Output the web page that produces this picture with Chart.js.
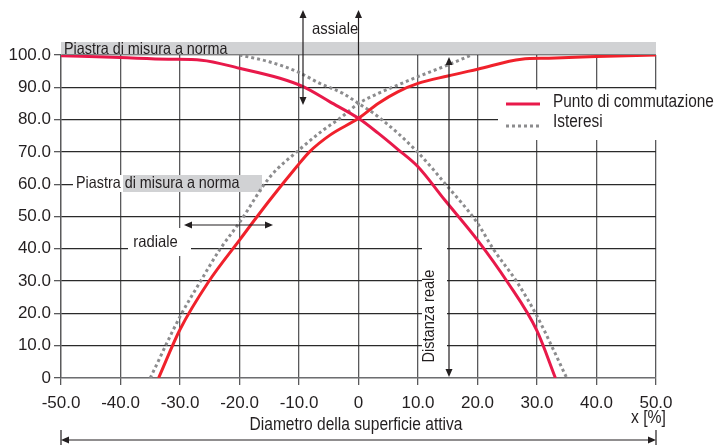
<!DOCTYPE html>
<html>
<head>
<meta charset="utf-8">
<script src="https://cdn.jsdelivr.net/npm/chart.js@4.4.1/dist/chart.umd.min.js"></script>
<style>
  html, body { margin: 0; padding: 0; background: #fff; }
  canvas { display: block; }
</style>
</head>
<body>
<canvas id="chart" width="714" height="445"></canvas>
<script>
// ===== data =====
// Punto di commutazione - branch falling from left to right
const switchDownX = [-50, -40, -32, -26.4, -20, -13.2, -9.3, -4.8, 0, 3.3, 6.6, 10, 14.5, 20, 25, 30, 33.1];
const switchDownY = [99.8, 99.2, 98.7, 98.4, 95.9, 92.8, 90.2, 85.5, 80.4, 75.8, 70.8, 65.4, 55.1, 42.7, 29.8, 14.6, 0];
// Punto di commutazione - branch rising from left to right
const switchUpX = [-33.6, -30, -25.2, -20, -14.9, -10.4, -8.2, -4.8, 0, 3.3, 6.6, 10, 15, 20, 27.4, 32, 40, 50];
const switchUpY = [0, 15, 29.8, 42.7, 55.1, 65.4, 70.1, 75.2, 80.4, 85, 88.6, 91.2, 93.5, 95.6, 98.7, 99, 99.5, 100];
// Isteresi
const hystDownX = [-20, -15, -10, -6.5, -2.6, 0, 3.3, 10, 15, 19.9, 22.7, 26.6, 29.9, 35];
const hystDownY = [100, 97.9, 94.6, 91.2, 88.1, 85, 80.9, 69.8, 59.2, 48.2, 39.8, 29.8, 19.5, 0];
const hystUpX = [-35, -30, -26.6, -23.3, -19.9, -15, -10, -5.9, -3.1, 0, 3.3, 6.6, 10, 15, 19];
const hystUpY = [0, 19, 29.8, 39.8, 48.4, 62, 70.6, 76.8, 80.4, 85, 88.1, 90.7, 93.3, 96.9, 100];

const seriesNames = ["Punto di commutazione", "Isteresi"];
const xTitle = "Diametro della superficie attiva";
const xUnit = "x [%]";

const RED_A = "#e8194a";
const RED_B = "#f0212b";
const GREY = "#8c8c8e";
const FONT = '"Liberation Sans", Arial, sans-serif';

function pts(xs, ys) {
  return xs.map((x, i) => ({ x: x, y: ys[i] }));
}

// condensed look: Liberation Sans squeezed sideways
function narrow(c, text, x, y, size, align, k) {
  c.save();
  c.translate(x, y);
  c.scale(k || 0.88, 1);
  c.font = size + "px " + FONT;
  c.textAlign = align;
  c.textBaseline = "middle";
  c.fillText(text, 0, 0);
  c.restore();
}

function head(c, x, y, dir) {
  const L = 8, W = 3.5;
  c.beginPath();
  if (dir === "up") { c.moveTo(x, y); c.lineTo(x - W, y + L); c.lineTo(x + W, y + L); }
  if (dir === "down") { c.moveTo(x, y); c.lineTo(x - W, y - L); c.lineTo(x + W, y - L); }
  if (dir === "left") { c.moveTo(x, y); c.lineTo(x + L, y - W); c.lineTo(x + L, y + W); }
  if (dir === "right") { c.moveTo(x, y); c.lineTo(x - L, y - W); c.lineTo(x - L, y + W); }
  c.closePath();
  c.fill();
}

function line(c, x1, y1, x2, y2) {
  c.beginPath();
  c.moveTo(x1, y1);
  c.lineTo(x2, y2);
  c.stroke();
}

// boxes, labels, arrows and the little legend
const extras = {
  id: "extras",
  beforeDatasetsDraw(chart) {
    const c = chart.ctx, xs = chart.scales.x, ys = chart.scales.y;
    const top = ys.getPixelForValue(100);
    c.save();
    // grey band at the top
    c.fillStyle = "#d1d2d4";
    c.fillRect(xs.left, top - 13, xs.right - xs.left, 12.5);
    // second band
    c.fillStyle = "#fff";
    c.fillRect(73, 175, 50, 17);
    c.fillStyle = "#d1d2d4";
    c.fillRect(123, 175, 139, 17);
    // white holes in the grid
    c.fillStyle = "#fff";
    c.fillRect(498, 89.5, 216, 50.5);
    c.fillRect(128, 228, 63, 28);
    c.fillRect(422, 244, 25, 128);
    c.restore();
  },
  afterDatasetsDraw(chart) {
    const c = chart.ctx, xs = chart.scales.x, ys = chart.scales.y;
    const ds = chart.data.datasets;
    const top = ys.getPixelForValue(100);
    const x0 = xs.getPixelForValue(0);
    c.save();
    c.fillStyle = "#231f20";
    narrow(c, "Piastra di misura a norma", 64, top - 6, 16.5, "left", 0.87);
    narrow(c, "Piastra di misura a norma", 76, 183.5, 16.5, "left", 0.87);
    narrow(c, "assiale", 312, 29, 16.5, "left", 0.9);
    narrow(c, "radiale", 155.5, 242, 16.5, "center", 0.9);
    c.save();
    c.translate(429, 316);
    c.rotate(-Math.PI / 2);
    narrow(c, "Distanza reale", 0, 0, 16.5, "center", 0.88);
    c.restore();

    // arrows
    c.strokeStyle = "#231f20";
    c.lineWidth = 1.2;
    // axial arrow
    line(c, 303, 12, 303, 102);
    head(c, 303, 10, "up");
    head(c, 303, 105, "down");
    // axis x=0 extended above the plot
    line(c, x0, top, x0, 12);
    head(c, x0, 10, "up");
    // real distance arrow
    line(c, 449, 60, 449, 374);
    head(c, 449, 57, "up");
    head(c, 449, 377, "down");
    // radial arrow
    line(c, 186, 225, 271, 225);
    head(c, 184, 225, "left");
    head(c, 273, 225, "right");
    // bottom arrow
    line(c, xs.left + 2, 440, xs.right - 2, 440);
    head(c, xs.left, 440, "left");
    head(c, xs.right, 440, "right");
    line(c, xs.left, 430, xs.left, 445);
    line(c, xs.right, 430, xs.right, 445);

    // axis titles
    narrow(c, xTitle, 356, 425, 17.5, "center", 0.89);
    narrow(c, xUnit, 666, 418, 17.5, "right", 0.9);

    // legend
    c.lineWidth = 3;
    c.strokeStyle = ds[0].borderColor;
    line(c, 506, 104, 540, 104);
    c.strokeStyle = ds[2].borderColor;
    c.setLineDash(ds[2].borderDash);
    line(c, 506, 126, 540, 126);
    c.setLineDash([]);
    narrow(c, ds[0].label, 553, 102, 17.5, "left", 0.88);
    narrow(c, ds[2].label, 553, 122, 17.5, "left", 0.88);
    c.restore();
  }
};

const solid = { showLine: true, pointRadius: 0, borderWidth: 3, fill: false, cubicInterpolationMode: "monotone" };
const dotted = { showLine: true, pointRadius: 0, borderWidth: 3, fill: false, borderDash: [3, 3], cubicInterpolationMode: "monotone" };

new Chart(document.getElementById("chart"), {
  type: "scatter",
  data: {
    datasets: [
      { ...solid, label: seriesNames[0], data: pts(switchDownX, switchDownY), borderColor: RED_A },
      { ...solid, label: seriesNames[0], data: pts(switchUpX, switchUpY), borderColor: RED_B },
      { ...dotted, label: seriesNames[1], data: pts(hystDownX, hystDownY), borderColor: GREY },
      { ...dotted, label: seriesNames[1], data: pts(hystUpX, hystUpY), borderColor: GREY }
    ]
  },
  options: {
    responsive: false,
    animation: false,
    layout: { padding: { left: 0, right: 58, top: 55, bottom: 0 } },
    plugins: { legend: { display: false }, tooltip: { enabled: false } },
    scales: {
      x: {
        type: "linear", min: -50, max: 50,
        afterFit: s => { s.height = 67; },
        border: { color: "#6d6e71", width: 1.3 },
        grid: { color: "#5a5a5c", lineWidth: 1.3, tickLength: 7, tickColor: "#5a5a5c" },
        ticks: {
          stepSize: 10, padding: 8, color: "#231f20",
          font: { family: FONT, size: 17 },
          callback: v => v === 0 ? "0" : v.toFixed(1)
        }
      },
      y: {
        min: 0, max: 100,
        afterFit: s => { s.width = 61; },
        border: { color: "#5a5a5c", width: 1.3 },
        grid: { color: "#2a2a2a", lineWidth: 1.3, tickLength: 7, tickColor: "#5a5a5c" },
        ticks: {
          stepSize: 10, padding: 3, color: "#231f20",
          font: { family: FONT, size: 17 },
          callback: v => v === 0 ? "0" : v.toFixed(1)
        }
      }
    }
  },
  plugins: [extras]
});
</script>
</body>
</html>
